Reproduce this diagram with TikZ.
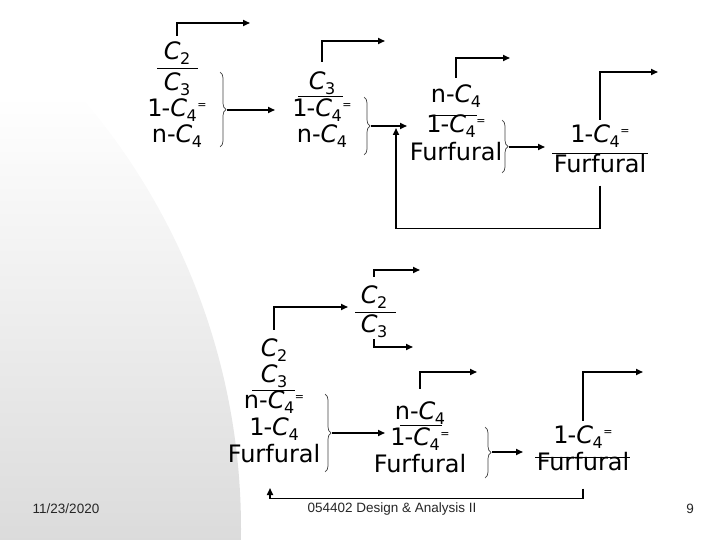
\documentclass[tikz,border=0pt]{standalone}
\usepackage{fontspec}
\setmainfont{DejaVu Sans}
\newfontfamily\footfont{Liberation Sans}
\usetikzlibrary{arrows.meta,calc,decorations.pathreplacing}

\newcommand{\chC}[1]{\textit{C}\kern-0.5pt\raisebox{-5pt}{\fontsize{16}{16}\selectfont#1}}
\newcommand{\dbl}{\kern0.5pt\raisebox{8pt}{\fontsize{11}{11}\selectfont=}}

\begin{document}
\begin{tikzpicture}[x=1pt,y=-1pt,
  spc/.style={anchor=base,inner sep=0pt,font=\fontsize{24}{28}\selectfont},
  arr/.style={->,>={Triangle[length=7pt,width=6pt]},line width=1.6pt},
  bar/.style={line width=0.9pt},
  brc/.style={decorate,decoration={brace,amplitude=6pt},line width=0.7pt,black!75},
  foot/.style={font=\footfont\fontsize{13.5}{16}\selectfont,text=black!85}
]
% background
\begin{scope}
  \clip (0,0) rectangle (720,540);
  \clip (-423,529) circle (664pt);
  \shade[top color=white,bottom color=black!14] (0,95) rectangle (720,540);
\end{scope}
\useasboundingbox (0,0) rectangle (720,540);

% feed
\node[spc] (a1) at (177,60)  {\chC{2}};
\node[spc] (a2) at (177,91)  {\chC{3}};
\node[spc] (a3) at (177,117) {1\kern-1pt-\chC{4}\dbl};
\node[spc] (a4) at (177,143) {n-\chC{4}};
\draw[bar] (157,68) -- (198,68);
\draw[brc] (220,72) -- (220,147);
\coordinate (t1) at (227,110);

% column 2
\node[spc] (b1) at (322,90)  {\chC{3}};
\node[spc] (b2) at (322,117) {1\kern-1pt-\chC{4}\dbl};
\node[spc] (b3) at (322,143) {n-\chC{4}};
\draw[bar] (298,96) -- (343,96);
\draw[brc] (364,97) -- (364,155);
\coordinate (t2) at (371,126);

% column 3
\node[spc] (c1) at (456,103) {n-\chC{4}};
\node[spc] (c2) at (456,133) {1\kern-1pt-\chC{4}\dbl};
\node[spc] (c3) at (456,161) {Furfural};
\draw[bar] (433,115) -- (477,115);
\draw[brc] (502,120) -- (502,173);
\coordinate (t3) at (509,147);

% column 4
\node[spc] (d1) at (600,143) {1\kern-1pt-\chC{4}\dbl};
\node[spc] (d2) at (600,173) {Furfural};
\draw[bar] (552,153) -- (648,153);

% second train
\node[spc] (e1) at (274,356) {\chC{2}};
\node[spc] (e2) at (274,382) {\chC{3}};
\node[spc] (e3) at (274,408) {n-\chC{4}\dbl};
\node[spc] (e4) at (274,435) {1\kern-1pt-\chC{4}};
\node[spc] (e5) at (274,462) {Furfural};
\draw[bar] (252,390) -- (295,390);
\draw[brc] (325,394) -- (325,472);
\coordinate (t5) at (332,433);

\node[spc] (f1) at (374,303) {\chC{2}};
\node[spc] (f2) at (374,332) {\chC{3}};
\draw[bar] (355,312) -- (396,312);

\node[spc] (g1) at (420,419) {n-\chC{4}};
\node[spc] (g2) at (420,445) {1\kern-1pt-\chC{4}\dbl};
\node[spc] (g3) at (420,472) {Furfural};
\draw[bar] (400,425) -- (442,425);
\draw[brc] (485,427) -- (485,478);
\coordinate (t7) at (492,452);

\node[spc] (h1) at (583,443) {1\kern-1pt-\chC{4}\dbl};
\node[spc] (h2) at (583,470) {Furfural};
\draw[bar] (535,457) -- (630,457);

% arrow ends
\coordinate (o1) at (250,23);
\coordinate (o2) at (385,41);
\coordinate (o3) at (510,58);
\coordinate (o4) at (658,72);
\coordinate (o5) at (348,307);
\coordinate (o6) at (420,270);
\coordinate (o7) at (413,347);
\coordinate (o8) at (477,372);
\coordinate (o9) at (643,372);
\coordinate (i2) at (275,110);
\coordinate (i3) at (407,126);
\coordinate (i4) at (545,147);
\coordinate (i6) at (385,433);
\coordinate (i8) at (523,452);
\coordinate (r1) at (396,128);
\coordinate (r2) at (270,488);

% overheads
\draw[arr] ([yshift=6pt]a1.north) |- (o1);
\draw[arr] ([yshift=10pt]b1.north) |- (o2);
\draw[arr] ([yshift=7pt]c1.north) |- (o3);
\draw[arr] ([yshift=5pt]d1.north) |- (o4);
\draw[arr] ([yshift=8pt]e1.north) |- (o5);
\draw[arr] ([yshift=8pt]f1.north) |- (o6);
\draw[arr] ([yshift=-2pt]f2.south) |- (o7);
\draw[arr] ([yshift=12pt]g1.north) |- (o8);
\draw[arr] ([yshift=4pt]h1.north) |- (o9);

% bottoms
\draw[arr] (t1) -- (i2);
\draw[arr] (t2) -- (i3);
\draw[arr] (t3) -- (i4);
\draw[arr] (t5) -- (i6);
\draw[arr] (t7) -- (i8);

% recycles
\draw[arr] ([yshift=-12pt]d2.south) -- ++(0,43) -| (r1);
\draw[arr] ([yshift=-18pt]h2.south) -- ++(0,10) -| (r2);

% footer
\node[foot] (date)   at (66,509)  {11/23/2020};
\node[foot] (course) at (392,509) {054402 Design \& Analysis II};
\node[foot] (page)   at (690,509) {9};
\end{tikzpicture}
\end{document}
